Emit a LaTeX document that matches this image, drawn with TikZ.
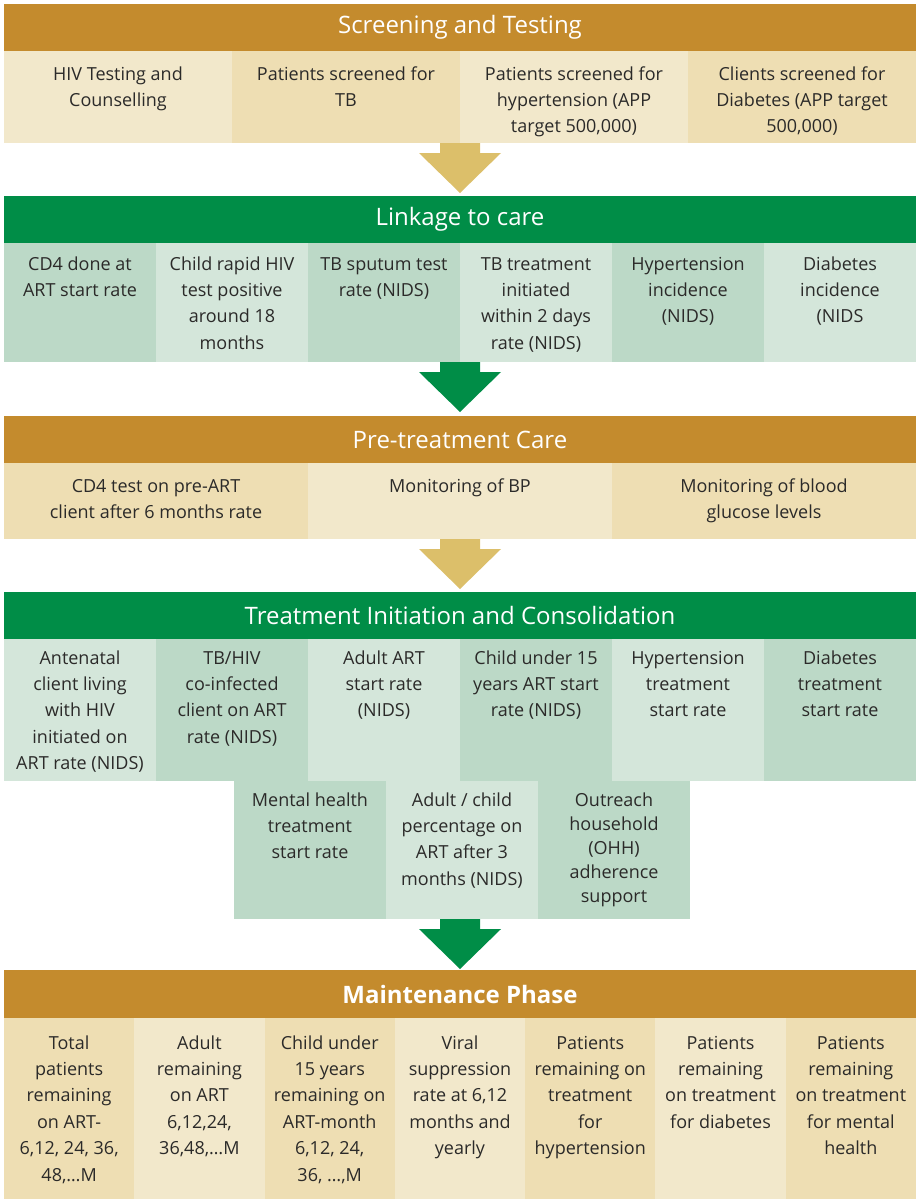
\documentclass[tikz,border=0pt]{standalone}
\usepackage{fontspec}
\setmainfont{Open Sans}
\usetikzlibrary{positioning}

\definecolor{hdgold}{HTML}{C48B2D}
\definecolor{hdgreen}{HTML}{008D47}
\definecolor{tanlight}{HTML}{F2E8CB}
\definecolor{tandark}{HTML}{EEDEB3}
\definecolor{grnlight}{HTML}{D4E6DA}
\definecolor{grndark}{HTML}{BCD9C7}
\definecolor{arrowtan}{HTML}{DCBF6A}
\definecolor{txtgrey}{HTML}{2B2A29}

% text of a cell: fixed box, lines from the top
\newcommand{\celltext}[4][12.5pt]{\parbox[c][#3][t]{#2}{\centering\rule{0pt}{#1}#4}}

\begin{document}
\begin{tikzpicture}
\tikzset{
  header/.style={fill=#1,text=white,minimum width=456pt,minimum height=23.5pt,
    inner sep=0pt,outer sep=0pt,anchor=north west,font=\fontsize{12}{14}\selectfont},
  cell/.style={fill=#1,inner sep=0pt,outer sep=0pt,text=txtgrey,
    font=\fontsize{9}{13.2}\selectfont},
  pics/flowarrow/.style={code={
    \fill (-10pt,0) -- (10pt,0) -- (10pt,-5pt) -- (20.5pt,-5pt) -- (0,-25pt)
      -- (-20.5pt,-5pt) -- (-10pt,-5pt) -- cycle;}}
}
\useasboundingbox (0,0) rectangle (458pt,-599.5pt);

% Screening and Testing
\node[header=hdgold] (s1h) at (2pt,-2pt) {Screening and Testing};
\node[cell=tanlight,anchor=north west] (s1c1) at (s1h.south west)
  {\celltext[14.5pt]{114pt}{46pt}{HIV Testing and\\Counselling}};
\node[cell=tandark,right=0pt of s1c1] (s1c2)
  {\celltext[14.5pt]{114pt}{46pt}{Patients screened for\\TB}};
\node[cell=tanlight,right=0pt of s1c2] (s1c3)
  {\celltext[14.5pt]{114pt}{46pt}{Patients screened for\\hypertension (APP\\target 500,000)}};
\node[cell=tandark,right=0pt of s1c3] (s1c4)
  {\celltext[14.5pt]{114pt}{46pt}{Clients screened for\\Diabetes (APP target\\500,000)}};
\pic[fill=arrowtan] at (s1h.center |- s1c1.south) {flowarrow};

% Linkage to care
\node[header=hdgreen] (s2h) at (2pt,-98pt) {Linkage to care};
\node[cell=grndark,anchor=north west] (s2c1) at (s2h.south west)
  {\celltext[13.5pt]{76pt}{59.5pt}{CD4 done at\\ART start rate}};
\node[cell=grnlight,right=0pt of s2c1] (s2c2)
  {\celltext[13.5pt]{76pt}{59.5pt}{Child rapid HIV\\test positive\\around 18\\months}};
\node[cell=grndark,right=0pt of s2c2] (s2c3)
  {\celltext[13.5pt]{76pt}{59.5pt}{TB sputum test\\rate (NIDS)}};
\node[cell=grnlight,right=0pt of s2c3] (s2c4)
  {\celltext[13.5pt]{76pt}{59.5pt}{TB treatment\\initiated\\within 2 days\\rate (NIDS)}};
\node[cell=grndark,right=0pt of s2c4] (s2c5)
  {\celltext[13.5pt]{76pt}{59.5pt}{Hypertension\\incidence\\(NIDS)}};
\node[cell=grnlight,right=0pt of s2c5] (s2c6)
  {\celltext[13.5pt]{76pt}{59.5pt}{Diabetes\\incidence\\(NIDS}};
\pic[fill=hdgreen] at (s2h.center |- s2c1.south) {flowarrow};

% Pre-treatment Care
\node[header=hdgold] (s3h) at (2pt,-208pt) {Pre-treatment Care};
\node[cell=tandark,anchor=north west] (s3c1) at (s3h.south west)
  {\celltext[14.5pt]{152pt}{38pt}{CD4 test on pre-ART\\client after 6 months rate}};
\node[cell=tanlight,right=0pt of s3c1] (s3c2)
  {\celltext[14.5pt]{152pt}{38pt}{Monitoring of BP}};
\node[cell=tandark,right=0pt of s3c2] (s3c3)
  {\celltext[14.5pt]{152pt}{38pt}{Monitoring of blood\\glucose levels}};
\pic[fill=arrowtan] at (s3h.center |- s3c1.south) {flowarrow};

% Treatment Initiation and Consolidation
\node[header=hdgreen] (s4h) at (2pt,-296pt) {Treatment Initiation and Consolidation};
\node[cell=grnlight,anchor=north west] (s4c1) at (s4h.south west)
  {\celltext{76pt}{71pt}{Antenatal\\client living\\with HIV\\initiated on\\ART rate (NIDS)}};
\node[cell=grndark,right=0pt of s4c1] (s4c2)
  {\celltext{76pt}{71pt}{TB/HIV\\co-infected\\client on ART\\rate (NIDS)}};
\node[cell=grnlight,right=0pt of s4c2] (s4c3)
  {\celltext{76pt}{71pt}{Adult ART\\start rate\\(NIDS)}};
\node[cell=grndark,right=0pt of s4c3] (s4c4)
  {\celltext{76pt}{71pt}{Child under 15\\years ART start\\rate (NIDS)}};
\node[cell=grnlight,right=0pt of s4c4] (s4c5)
  {\celltext{76pt}{71pt}{Hypertension\\treatment\\start rate}};
\node[cell=grndark,right=0pt of s4c5] (s4c6)
  {\celltext{76pt}{71pt}{Diabetes\\treatment\\start rate}};
\node[cell=grndark,anchor=north west,xshift=39pt] (s4d1) at (s4c2.south west)
  {\celltext{76pt}{69pt}{Mental health\\treatment\\start rate}};
\node[cell=grnlight,right=0pt of s4d1] (s4d2)
  {\celltext{76pt}{69pt}{Adult / child\\percentage on\\ART after 3\\months (NIDS)}};
\node[cell=grndark,right=0pt of s4d2,font=\fontsize{9}{12}\selectfont] (s4d3)
  {\celltext{76pt}{69pt}{Outreach\\household\\(OHH)\\adherence\\support}};
\pic[fill=hdgreen] at (s4h.center |- s4d1.south) {flowarrow};

% Maintenance Phase
\node[header=hdgold,minimum height=24pt,font=\fontsize{12}{14}\selectfont\bfseries] (s5h)
  at (2pt,-485pt) {Maintenance Phase};
\node[cell=tandark,anchor=north west] (s5c1) at (s5h.south west)
  {\celltext[15.5pt]{65.14pt}{90.5pt}{Total\\patients\\remaining\\on ART-\\6,12, 24, 36,\\48,…M}};
\node[cell=tanlight,right=0pt of s5c1] (s5c2)
  {\celltext[15.5pt]{65.14pt}{90.5pt}{Adult\\remaining\\on ART\\6,12,24,\\36,48,…M}};
\node[cell=tandark,right=0pt of s5c2] (s5c3)
  {\celltext[15.5pt]{65.14pt}{90.5pt}{Child under\\15 years\\remaining on\\ART-month\\6,12, 24,\\36, …,M}};
\node[cell=tanlight,right=0pt of s5c3] (s5c4)
  {\celltext[15.5pt]{65.14pt}{90.5pt}{Viral\\suppression\\rate at 6,12\\months and\\yearly}};
\node[cell=tandark,right=0pt of s5c4] (s5c5)
  {\celltext[15.5pt]{65.14pt}{90.5pt}{Patients\\remaining on\\treatment\\for\\hypertension}};
\node[cell=tanlight,right=0pt of s5c5] (s5c6)
  {\celltext[15.5pt]{65.14pt}{90.5pt}{Patients\\remaining\\on treatment\\for diabetes}};
\node[cell=tandark,right=0pt of s5c6] (s5c7)
  {\celltext[15.5pt]{65.14pt}{90.5pt}{Patients\\remaining\\on treatment\\for mental\\health}};
\end{tikzpicture}
\end{document}
